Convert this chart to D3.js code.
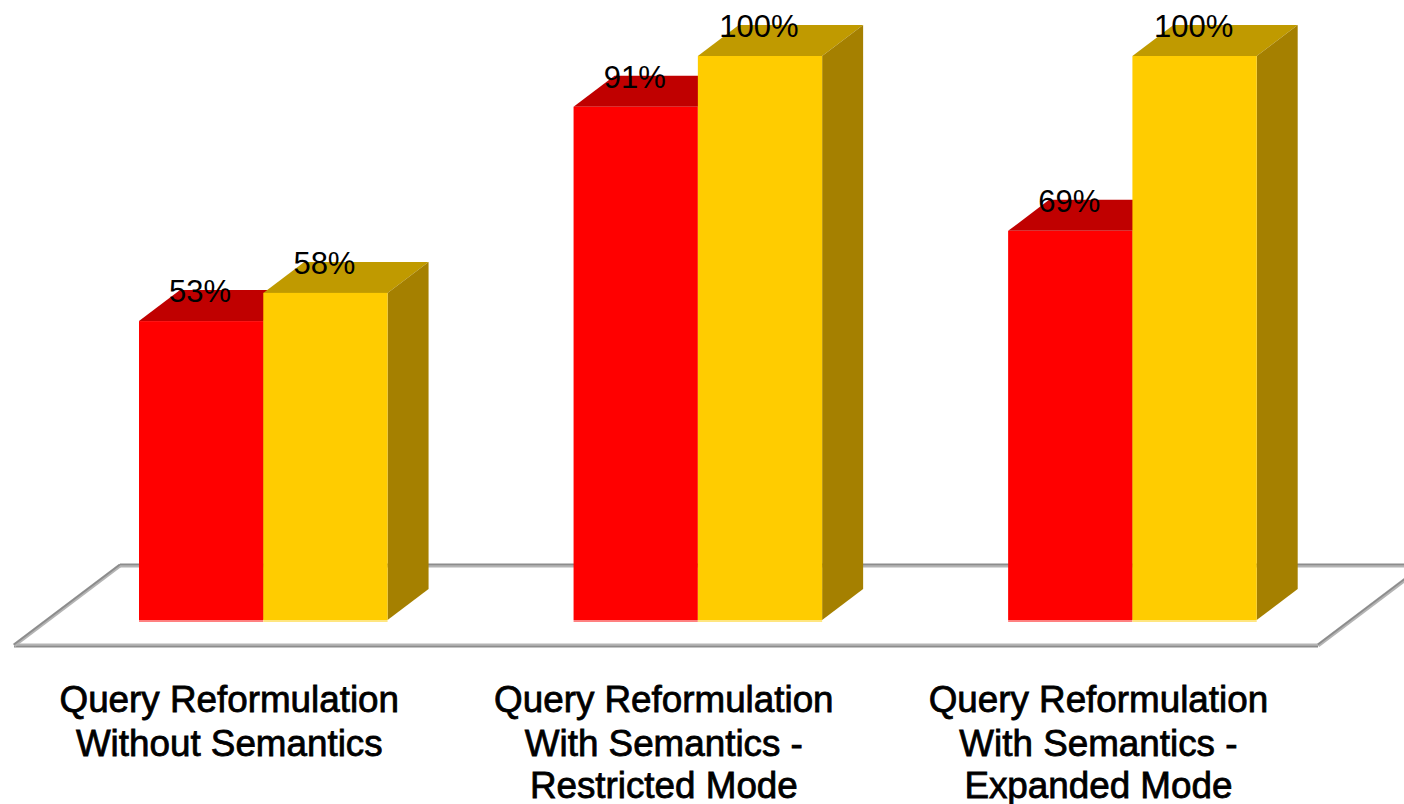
<!DOCTYPE html>
<html>
<head>
<meta charset="utf-8">
<script src="https://cdn.jsdelivr.net/npm/d3@7/dist/d3.min.js"></script>
<style>
html, body { margin: 0; padding: 0; background: #fff; overflow: hidden; }
svg { display: block; }
text { font-family: "Liberation Sans", Arial, sans-serif; fill: #000; }
</style>
</head>
<body>
<svg id="chart" width="1404" height="804"></svg>
<script>
// Coverage per query reformulation strategy, in percent.
const categories = [
  ["Query Reformulation", "Without Semantics"],
  ["Query Reformulation", "With Semantics -", "Restricted Mode"],
  ["Query Reformulation", "With Semantics -", "Expanded Mode"]
];
const redValues = [53, 91, 69];
const goldValues = [58, 100, 100];
const seriesValues = [redValues, goldValues];
const seriesColors = [
  { front: "#ff0000", top: "#c00000", side: "#a00000", base: "#ff8080" },
  { front: "#ffcc00", top: "#c09a00", side: "#a58000", base: "#ffe680" }
];

const svg = d3.select("#chart");
const baseY = 620, topY = 56;
const depthX = 41, depthY = -31;

const y = d3.scaleLinear().domain([0, 100]).range([baseY, topY]);
const x0 = d3.scaleBand().domain(d3.range(categories.length)).range([139, 1256.7]).paddingInner(0.428);
const x1 = d3.scaleBand().domain(d3.range(seriesValues.length)).range([0, x0.bandwidth()]);

// Floor of the 3D plot: a parallelogram outline in two greys.
const floor = svg.append("g");
const floorFront = 645.5, floorBack = 565.5;
[
  [[14, floorFront], [1318, floorFront]],
  [[14, floorFront], [120, floorBack]],
  [[120, floorBack], [1404, floorBack]],
  [[1318, floorFront], [1424, floorBack]]
].forEach(seg => {
  const dark = seg[0][1] === floorFront && seg[1][1] === floorFront ? 1 : -1;
  floor.append("line")
    .attr("x1", seg[0][0]).attr("y1", seg[0][1])
    .attr("x2", seg[1][0]).attr("y2", seg[1][1])
    .attr("stroke", "#b4b4b4").attr("stroke-width", 4);
  floor.append("line")
    .attr("x1", seg[0][0]).attr("y1", seg[0][1] + dark)
    .attr("x2", seg[1][0]).attr("y2", seg[1][1] + dark)
    .attr("stroke", "#8c8c8c").attr("stroke-width", 1.6);
});

const poly = pts => pts.map(p => p.join(",")).join(" ");

// Bars are drawn per group: gold after red so gold's top overlaps.
categories.forEach((cat, i) => {
  const g = svg.append("g").attr("class", "group");
  seriesValues.forEach((vals, s) => {
    const left = x0(i) + x1(s), right = left + x1.bandwidth();
    const t = y(vals[i]);
    const c = seriesColors[s];
    g.append("polygon")
      .attr("points", poly([[left, t], [left + depthX, t + depthY], [right + depthX, t + depthY], [right, t]]))
      .attr("fill", c.top);
    g.append("polygon")
      .attr("points", poly([[right, t], [right + depthX, t + depthY], [right + depthX, baseY + depthY], [right, baseY]]))
      .attr("fill", c.side);
    g.append("rect")
      .attr("x", left).attr("y", t)
      .attr("width", x1.bandwidth()).attr("height", baseY - t)
      .attr("fill", c.front);
    g.append("rect")
      .attr("x", left).attr("y", baseY)
      .attr("width", x1.bandwidth()).attr("height", 2)
      .attr("fill", c.base);
  });
});

// Value labels sit on the top face of each bar.
categories.forEach((cat, i) => {
  seriesValues.forEach((vals, s) => {
    svg.append("text")
      .attr("x", x0(i) + x1(s) + x1.bandwidth() / 2 - 1)
      .attr("y", y(vals[i]) - 19)
      .attr("text-anchor", "middle")
      .attr("font-size", 31)
      .text(vals[i] + "%");
  });
});

// Category labels under the floor.
const lineBaselines = [711.5, 755.5, 797.5];
categories.forEach((lines, i) => {
  const cx = x0(i) + x0.bandwidth() / 2 - 34;
  lines.forEach((line, k) => {
    svg.append("text")
      .attr("x", cx).attr("y", lineBaselines[k])
      .attr("text-anchor", "middle")
      .attr("font-size", 36.8)
      .attr("stroke", "#000").attr("stroke-width", 0.8)
      .text(line);
  });
});
</script>
</body>
</html>
